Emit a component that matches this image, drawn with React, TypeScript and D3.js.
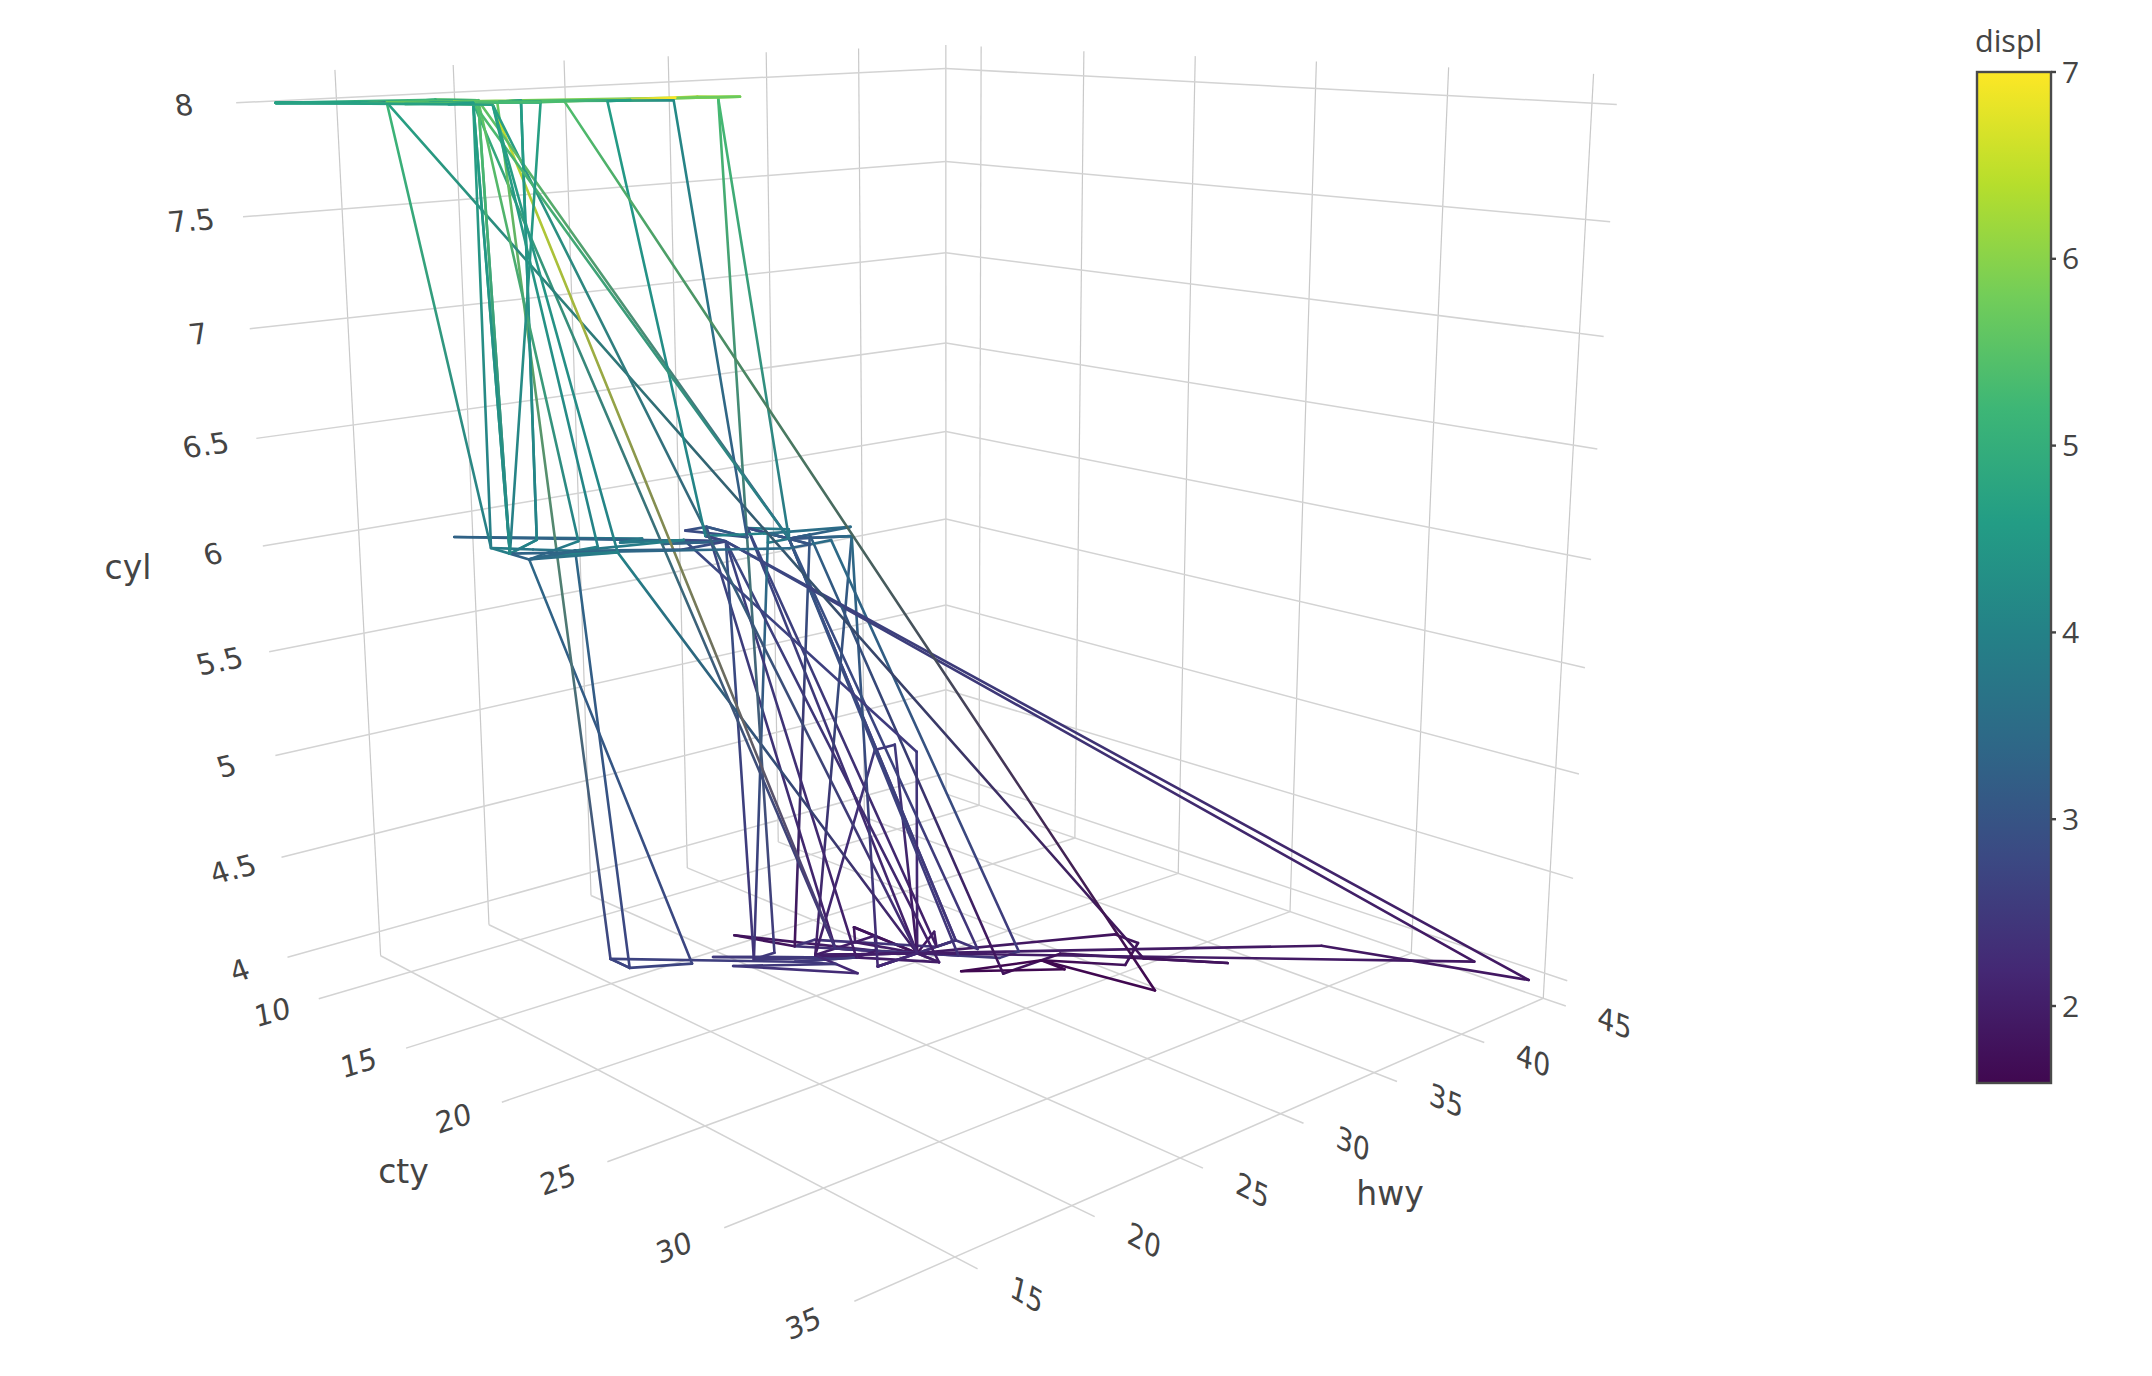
import React from "react";
import * as d3 from "d3";

// mpg data, in row order
const displ = [
  1.8,1.8,2,2,2.8,2.8,3.1, 1.8,1.8,2,2,2.8,2.8,3.1,3.1, 2.8,3.1,4.2,
  5.3,5.3,5.3,5.7,6, 5.7,5.7,6.2,6.2,7, 5.3,5.3,5.7,6.5, 2.4,2.4,3.1,3.5,3.6,
  2.4,3,3.3,3.3,3.3,3.3,3.3,3.8,3.8,3.8,4, 3.7,3.7,3.9,3.9,4.7,4.7,4.7,5.2,5.2,
  3.9,4.7,4.7,4.7,5.2,5.7,5.9, 4.7,4.7,4.7,4.7,4.7,4.7,5.2,5.2,5.7,5.9,
  4.6,5.4,5.4, 4,4,4,4.6,5, 4.2,4.2,4.6,4.6,4.6,5.4,5.4, 3.8,3.8,4,4,4.6,4.6,4.6,4.6,5.4,
  1.6,1.6,1.6,1.6,1.6,1.8,1.8,1.8,2, 2.4,2.4,2.4,2.4,2.5,2.5,3.3, 2,2,2,2,2.7,2.7,2.7,
  3,3.7,4,4.7,4.7,4.7,5.7,6.1, 4,4.2,4.4,4.6, 5.4,5.4,5.4, 4,4,4.6,5,
  2.4,2.4,2.5,2.5,3.5,3.5, 3,3,3.5, 3.3,3.3,4,5.6, 3.1,3.8,3.8,3.8,5.3,
  2.5,2.5,2.5,2.5,2.5,2.5, 2.2,2.2,2.5,2.5,2.5,2.5,2.5,2.5,
  2.7,2.7,3.4,3.4,4,4.7, 2.2,2.2,2.4,2.4,3,3,3.5, 2.2,2.2,2.4,2.4,3,3,3.3,
  1.8,1.8,1.8,1.8,1.8, 4.7,5.7, 2.7,2.7,2.7,3.4,3.4,4,4,
  2,2,2,2,2.8, 1.9,2,2,2,2,2.5,2.5,2.8,2.8, 1.9,1.9,2,2,2.5,2.5, 1.8,1.8,2,2,2.8,2.8,3.6,
];
const cyl = [
  4,4,4,4,6,6,6, 4,4,4,4,6,6,6,6, 6,6,8,
  8,8,8,8,8, 8,8,8,8,8, 8,8,8,8, 4,4,6,6,6,
  4,6,6,6,6,6,6,6,6,6,6, 6,6,6,6,8,8,8,8,8,
  6,8,8,8,8,8,8, 8,8,8,8,8,8,8,8,8,8,
  8,8,8, 6,6,6,8,8, 6,6,8,8,8,8,8, 6,6,6,6,8,8,8,8,8,
  4,4,4,4,4,4,4,4,4, 4,4,4,4,6,6,6, 4,4,4,4,6,6,6,
  6,6,6,8,8,8,8,8, 8,8,8,8, 8,8,8, 6,6,8,8,
  4,4,4,4,6,6, 6,6,6, 6,6,6,8, 6,6,6,6,8,
  4,4,4,4,4,4, 4,4,4,4,4,4,4,4,
  4,4,6,6,6,8, 4,4,4,4,6,6,6, 4,4,4,4,6,6,6,
  4,4,4,4,4, 8,8, 4,4,4,6,6,6,6,
  4,4,4,4,6, 4,4,4,4,4,5,5,6,6, 4,4,4,4,5,5, 4,4,4,4,6,6,6,
];
const cty = [
  18,21,20,21,16,18,18, 18,16,20,19,15,17,17,15, 15,17,16,
  14,11,14,13,12, 16,15,16,15,15, 14,11,11,14, 19,22,18,18,17,
  18,17,16,16,17,17,11,15,15,16,16, 15,14,13,14,14,14,9,11,11,
  13,13,9,13,11,13,11, 12,9,13,13,13,12,11,11,13,11,
  11,11,12, 14,13,13,13,13, 14,14,13,13,13,12,13, 18,18,17,16,15,15,15,15,14,
  28,24,25,23,24,26,25,24,21, 18,18,21,21,18,18,19, 19,19,20,20,17,16,17,
  17,15,15,14,9,14,13,11, 11,11,12,11, 12,11,12, 14,13,13,13,
  19,21,23,23,19,19, 18,19,19, 14,15,14,12, 18,16,17,18,16,
  18,18,20,19,20,18, 21,19,19,19,20,17,20,19,
  15,16,15,15,16,14, 21,21,21,21,18,18,19, 21,21,21,22,18,18,18,
  24,24,26,28,26, 11,13, 15,16,17,15,15,15,16,
  21,19,21,22,17, 33,21,19,22,21,21,21,16,17, 35,29,21,19,20,20, 21,18,19,21,16,18,17,
];
const hwy = [
  29,29,31,30,26,26,27, 26,25,28,27,25,25,25,25, 24,25,23,
  20,15,20,17,17, 26,23,26,25,24, 19,14,15,17, 27,30,26,29,26,
  24,24,22,22,24,24,17,22,21,23,23, 19,18,17,17,19,19,12,17,15,
  17,17,12,17,16,18,15, 16,12,17,17,17,16,15,16,17,15,
  17,17,18, 17,19,19,19,17, 17,17,17,16,17,15,17, 26,25,26,24,21,22,23,22,20,
  33,32,32,29,32,34,36,36,29, 26,27,30,31,26,26,28, 26,29,28,27,24,24,24,
  22,19,20,17,12,19,18,14, 15,15,18,15, 18,17,18, 17,19,19,17,
  27,29,31,32,27,26, 26,26,25, 17,17,20,18, 26,26,27,26,25,
  25,24,27,25,26,23, 26,26,26,26,27,23,27,25,
  20,20,19,17,20,17, 29,27,31,31,26,26,28, 27,29,31,31,26,26,27,
  30,33,35,37,35, 15,18, 20,20,22,17,19,18,20,
  29,26,29,29,24, 44,29,26,29,29,29,29,23,24, 44,41,29,26,28,29, 29,29,28,29,26,26,26,
];

const ctyTicks = [10, 15, 20, 25, 30, 35];
const hwyTicks = [15, 20, 25, 30, 35, 40, 45];
const cylTicks = [4, 4.5, 5, 5.5, 6, 6.5, 7, 7.5, 8];
const displTicks = [2, 3, 4, 5, 6, 7];
const viridisStops = ["#400850","#442874","#3b4983","#2e6787","#248187","#239d85","#3db676","#72cd59","#b6de2c","#fde725"];

const padded = (a: number[]) => {
  const [lo, hi] = d3.extent(a) as [number, number];
  const d = (hi - lo) / 32;
  return [lo - d, hi + d];
};
const U = d3.scaleLinear().domain(padded(cty)).range([0, 1]);
const V = d3.scaleLinear().domain(padded(hwy)).range([0, 1]);
const W = d3.scaleLinear().domain(padded(cyl)).range([0, 1]);

// Scene camera, expressed as a 3x4 homogeneous projection of the unit box
const CAM = {
  x: [289, 377.1, 860.9, -72.5],
  y: [982, 16.06, -17, -913.7],
  d: [1, -0.2404, 0.2156, -0.0765],
};
const project = (u: number, v: number, w: number): [number, number] => {
  const dot = (c: number[]) => c[0] + c[1] * u + c[2] * v + c[3] * w;
  const D = dot(CAM.d);
  return [dot(CAM.x) / D, dot(CAM.y) / D];
};
const depth = (u: number, v: number, w: number) =>
  CAM.d[0] + CAM.d[1] * u + CAM.d[2] * v + CAM.d[3] * w;

const colorDomain = [1.6, 7];
const colorScale = d3
  .scaleLinear<string>()
  .domain(viridisStops.map((_, i) => colorDomain[0] + (i / (viridisStops.length - 1)) * (colorDomain[1] - colorDomain[0])))
  .range(viridisStops)
  .interpolate(d3.interpolateRgb);

const TEXT = "#444444";
const FONT = '"Open Sans", verdana, arial, sans-serif';
const SCENE_FONT = '"DejaVu Sans", verdana, sans-serif';
const TICK_SIZE = 29;
const TITLE_SIZE = 33;

const GridLine = ({ a, b, w = 1.5, c = "#d3d3d3" }: { a: [number, number]; b: [number, number]; w?: number; c?: string }) => (
  <line x1={a[0]} y1={a[1]} x2={b[0]} y2={b[1]} stroke={c} strokeWidth={w} />
);
const WALL = { w: 1.2, c: "#c9c9c9" };

const angle = (a: [number, number], b: [number, number]) =>
  (Math.atan2(b[1] - a[1], b[0] - a[0]) * 180) / Math.PI;

const Label = ({ p, rot, skew, text }: { p: [number, number]; rot: number; skew: number; text: string }) => (
  <text
    x={0}
    y={0}
    transform={`translate(${p[0]},${p[1]}) rotate(${rot}) skewX(${skew})`}
    textAnchor="middle"
    dominantBaseline="central"
    fontFamily={SCENE_FONT}
    fontSize={TICK_SIZE}
    fill={TEXT}
  >
    {text}
  </text>
);

const BAR = { x0: 1977, x1: 2051, y0: 72, y1: 1083 };

export default function App() {
  const barY = d3.scaleLinear().domain([2, 7]).range([1006, BAR.y0]);
  const pts = displ.map((_, i) => {
    const u = U(cty[i]), v = V(hwy[i]), w = W(cyl[i]);
    return { p: project(u, v, w), c: colorScale(displ[i]), z: depth(u, v, w) };
  });
  const segs = pts.slice(1).map((q, i) => ({ a: pts[i], b: q, id: `s${i}`, z: (pts[i].z + q.z) / 2 }));
  const ordered = [...segs].sort((s, t) => d3.descending(s.z, t.z));

  return (
    <svg
      width={2152}
      height={1376}
      viewBox="0 0 2152 1376"
      style={{ position: "absolute", left: 0, top: 0, background: "#fff" }}
    >
      <defs>
        {segs.map((s) => (
          <linearGradient
            key={s.id}
            id={s.id}
            gradientUnits="userSpaceOnUse"
            x1={s.a.p[0]}
            y1={s.a.p[1]}
            x2={s.b.p[0]}
            y2={s.b.p[1]}
          >
            <stop offset="0" stopColor={s.a.c} />
            <stop offset="1" stopColor={s.b.c} />
          </linearGradient>
        ))}
        <linearGradient id="bar" x1="0" y1="1" x2="0" y2="0">
          {viridisStops.map((c, i) => (
            <stop key={c} offset={i / (viridisStops.length - 1)} stopColor={c} />
          ))}
        </linearGradient>
      </defs>

      {/* walls and floor */}
      {hwyTicks.map((t) => (
        <g key={`h${t}`}>
          <GridLine a={project(0, V(t), 0)} b={project(0, V(t), 1)} {...WALL} />
          <GridLine a={project(0, V(t), 0)} b={project(1, V(t), 0)} />
        </g>
      ))}
      {ctyTicks.map((t) => (
        <g key={`c${t}`}>
          <GridLine a={project(U(t), 1, 0)} b={project(U(t), 1, 1)} {...WALL} />
          <GridLine a={project(U(t), 0, 0)} b={project(U(t), 1, 0)} />
        </g>
      ))}
      {cylTicks.map((t) => (
        <g key={`z${t}`}>
          <GridLine a={project(0, 0, W(t))} b={project(0, 1, W(t))} />
          <GridLine a={project(0, 1, W(t))} b={project(1, 1, W(t))} />
        </g>
      ))}

      {/* trace */}
      {ordered.map((s) => (
        <line
          key={s.id}
          x1={s.a.p[0]}
          y1={s.a.p[1]}
          x2={s.b.p[0]}
          y2={s.b.p[1]}
          stroke={s.a.c === s.b.c || (s.a.p[0] === s.b.p[0] && s.a.p[1] === s.b.p[1]) ? s.a.c : `url(#${s.id})`}
          strokeWidth={2.6}
          strokeLinecap="round"
        />
      ))}

      {/* tick labels */}
      {cylTicks.map((t) => (
        <Label
          key={`lz${t}`}
          text={String(t)}
          skew={6}
          p={project(0, -0.059, W(t))}
          rot={angle(project(0, 0, W(t)), project(0, 1, W(t)))}
        />
      ))}
      {ctyTicks.map((t) => (
        <Label
          key={`lc${t}`}
          text={String(t)}
          skew={-7}
          p={project(U(t), -0.057, 0)}
          rot={angle(project(U(t), 0, 0), project(U(t), 1, 0))}
        />
      ))}
      {hwyTicks.map((t) => (
        <Label
          key={`lh${t}`}
          text={String(t)}
          skew={18}
          p={project(1.062, V(t), 0)}
          rot={angle(project(0, V(t), 0), project(1, V(t), 0)) + 3}
        />
      ))}

      {/* axis titles */}
      {[
        { t: "cty", x: 403.5, y: 1171 },
        { t: "hwy", x: 1390, y: 1193 },
        { t: "cyl", x: 128, y: 567 },
      ].map((d) => (
        <text
          key={d.t}
          x={d.x}
          y={d.y}
          textAnchor="middle"
          dominantBaseline="central"
          fontFamily={SCENE_FONT}
          fontSize={TITLE_SIZE}
          fill={TEXT}
        >
          {d.t}
        </text>
      ))}

      {/* colour bar */}
      <rect
        x={BAR.x0}
        y={BAR.y0}
        width={BAR.x1 - BAR.x0}
        height={BAR.y1 - BAR.y0}
        fill="url(#bar)"
        stroke="#4a4a4a"
        strokeWidth={2.4}
      />
      {displTicks.map((t) => (
        <g key={`b${t}`}>
          <line x1={BAR.x1} x2={BAR.x1 + 5} y1={barY(t)} y2={barY(t)} stroke={TEXT} strokeWidth={2.4} />
          <text
            x={BAR.x1 + 11}
            y={barY(t) - 1}
            dominantBaseline="central"
            fontFamily={FONT}
            fontSize={30}
            fill={TEXT}
          >
            {t}
          </text>
        </g>
      ))}
      <text x={1975} y={52} fontFamily={FONT} fontSize={30.5} fill={TEXT}>
        displ
      </text>
    </svg>
  );
}
